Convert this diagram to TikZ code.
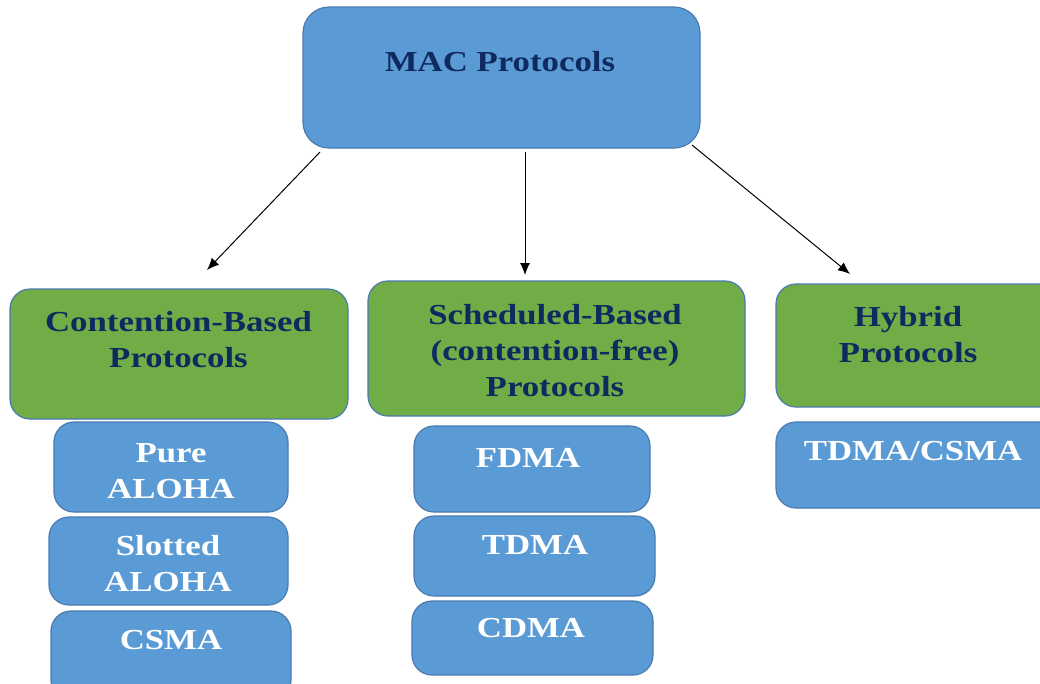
\documentclass[tikz,border=0pt]{standalone}
\usepackage{fontspec}
\setmainfont[FakeStretch=1.2]{Liberation Serif}
\usetikzlibrary{arrows.meta}
\definecolor{boxblue}{HTML}{5B9BD5}
\definecolor{boxgreen}{HTML}{70AD47}
\definecolor{edgeblue}{HTML}{4A7AB0}
\definecolor{navy}{HTML}{0F2A5E}
\tikzset{
  bluebox/.style={draw=edgeblue, line width=1.2pt, fill=boxblue, rounded corners=20pt, inner sep=0pt},
  greenbox/.style={draw=edgeblue, line width=1.2pt, fill=boxgreen, rounded corners=20pt, inner sep=0pt},
  darktxt/.style={text=navy, font=\fontsize{29}{36}\selectfont\bfseries, align=center, inner sep=0pt},
  whitetxt/.style={text=white, font=\fontsize{29}{36}\selectfont\bfseries, align=center, inner sep=0pt},
  arr/.style={-{Latex[length=12pt,width=10pt]}, line width=1pt, black}
}
\begin{document}
\begin{tikzpicture}[x=1pt,y=-1pt]
\useasboundingbox (0,0) rectangle (1040,683);
\clip (0,0) rectangle (1040,683);
\fill[white] (0,0) rectangle (1040,683);
% top
\node[bluebox, minimum width=397pt, minimum height=141pt, rounded corners=26pt] (mac) at (501.5,77.5) {};
\node[darktxt] (mact) at (500,62) {MAC Protocols};
% categories
\node[greenbox, minimum width=338pt, minimum height=130pt] (cb) at (179,354) {};
\node[darktxt] (cbt) at (178.5,340) {Contention-Based\\Protocols};
\node[greenbox, minimum width=377pt, minimum height=135pt] (sb) at (556.5,348.5) {};
\node[darktxt] (sbt) at (555,351) {Scheduled-Based\\(contention-free)\\Protocols};
\node[greenbox, minimum width=284pt, minimum height=123pt] (hb) at (918,345.5) {};
\node[darktxt] (hbt) at (908,335) {Hybrid\\Protocols};
% contention-based items
\node[bluebox, minimum width=234pt, minimum height=90pt] (pa) at (171,467) {};
\node[whitetxt] (pat) at (171,471) {Pure\\ALOHA};
\node[bluebox, minimum width=239pt, minimum height=88pt] (sa) at (168.5,561) {};
\node[whitetxt] (sat) at (168,564) {Slotted\\ALOHA};
\node[bluebox, minimum width=240pt, minimum height=89pt] (cs) at (171,655.5) {};
\node[whitetxt] (cst) at (171,640) {CSMA};
% scheduled items
\node[bluebox, minimum width=236pt, minimum height=86pt] (fd) at (532,469) {};
\node[whitetxt] (fdt) at (528,458) {FDMA};
\node[bluebox, minimum width=241pt, minimum height=80pt] (td) at (534.5,556) {};
\node[whitetxt] (tdt) at (535,545) {TDMA};
\node[bluebox, minimum width=241pt, minimum height=74pt] (cd) at (532.5,638) {};
\node[whitetxt] (cdt) at (531,628) {CDMA};
% hybrid item
\node[bluebox, minimum width=284pt, minimum height=86pt] (tc) at (918,465) {};
\node[whitetxt] (tct) at (913,451) {TDMA/CSMA};
% arrows
\coordinate (s1) at (320,152);
\coordinate (e1) at (207,270);
\coordinate (s2) at (525,152);
\coordinate (e2) at (525,275);
\coordinate (s3) at (692,145);
\coordinate (e3) at (850,274);
\draw[arr] (s1) -- (e1);
\draw[arr] (s2) -- (e2);
\draw[arr] (s3) -- (e3);
\end{tikzpicture}
\end{document}
